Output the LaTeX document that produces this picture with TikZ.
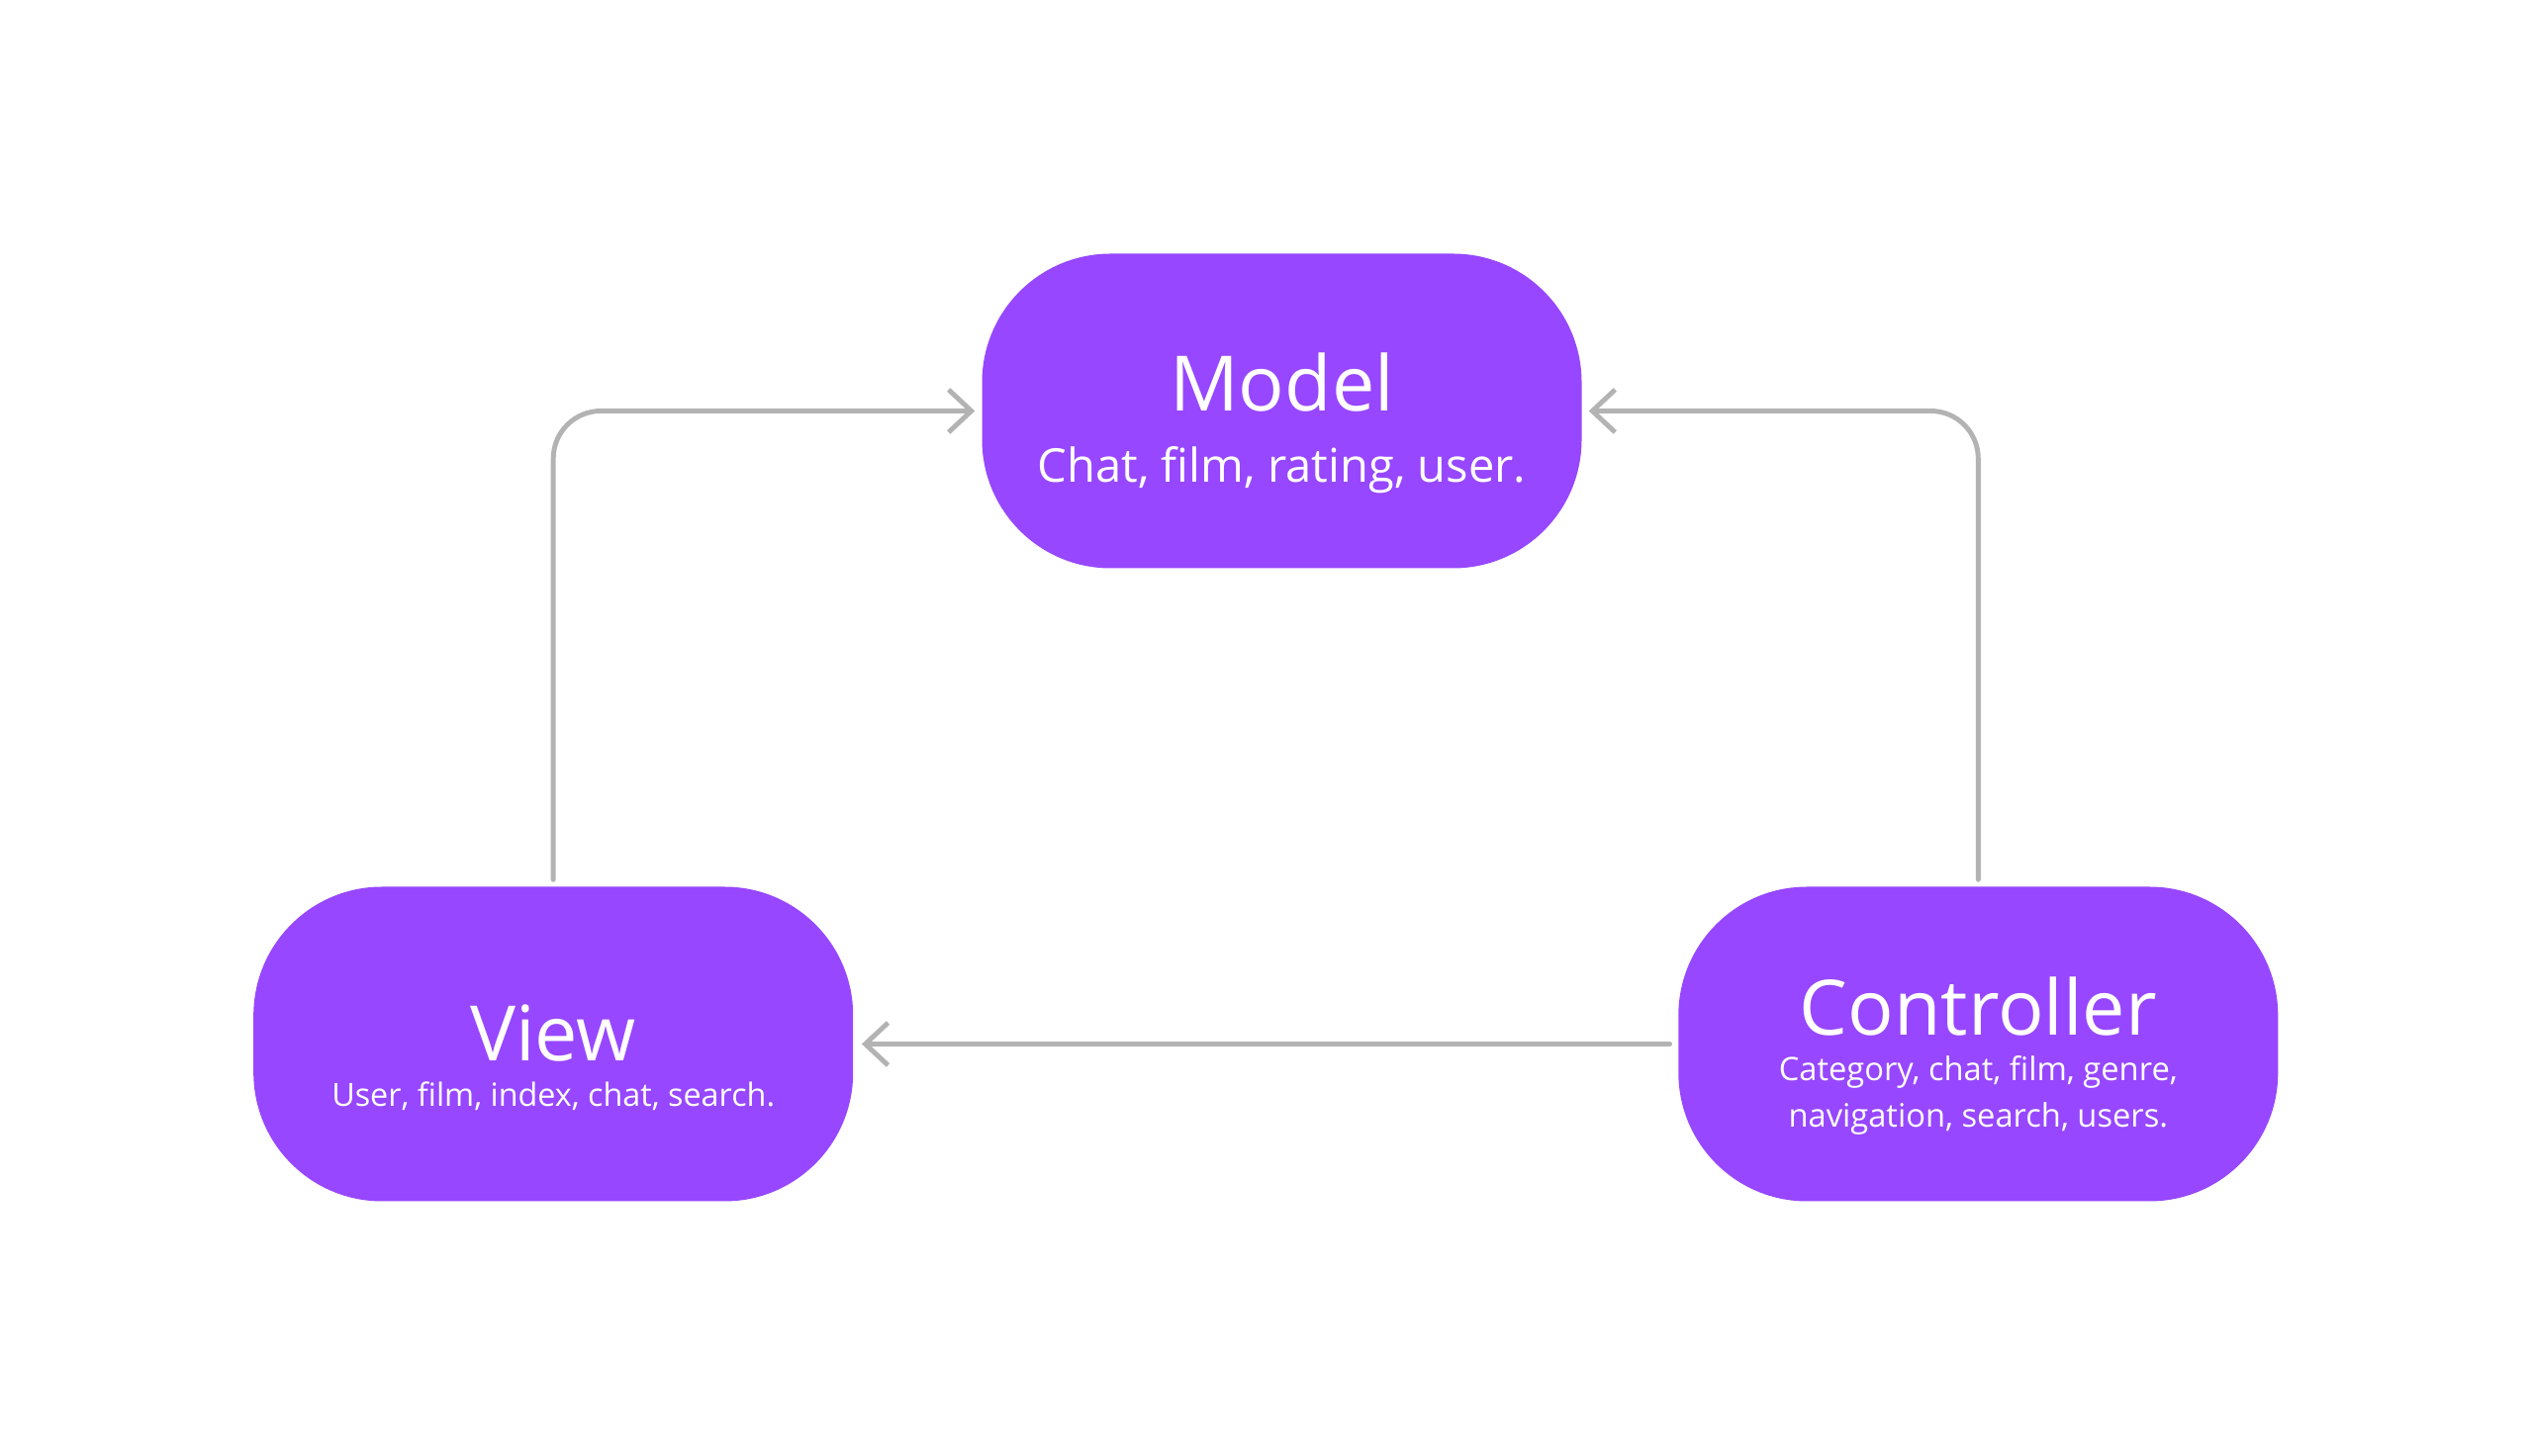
\documentclass[tikz,border=0pt]{standalone}
\usepackage{fontspec}
\setmainfont{Open Sans}
\usetikzlibrary{arrows.meta}
\definecolor{mvcpurple}{HTML}{9747FF}
\definecolor{linkgray}{HTML}{B3B3B3}
\tikzstyle{block} = [rectangle, rounded corners=1.3cm, minimum width=6.06cm, minimum height=3.18cm, fill=mvcpurple, text=white, align=center, inner sep=0pt, font={\baselineskip=0pt\lineskip=0pt\lineskiplimit=0pt}]
\tikzstyle{arrow} = [draw=linkgray, line width=1.4pt, line cap=round, rounded corners=0.48cm, -{Straight Barb[length=2.3mm,width=4.3mm]}, shorten <=0.65mm, shorten >=0.65mm]
\newcommand{\blocktitle}{\fontsize{22}{0}\selectfont}
\newcommand{\blocksub}[1]{\fontsize{#1}{0}\selectfont}

\begin{document}
\begin{tikzpicture}
\useasboundingbox (0,0) rectangle (25.6,14.72);
%Blocks
\node[block] (model) at (12.955,10.565) {\blocktitle\rule[-6pt]{0pt}{30.74pt}Model\\\blocksub{13.4}\rule[-4pt]{0pt}{18.46pt}Chat, film, rating, user.};
\node[block] (view) at (5.592,4.165) {\blocktitle\rule[-3pt]{0pt}{29.5pt}View\\\blocksub{9.2}\rule[-4pt]{0pt}{14.1pt}User, film, index, chat, search.};
\node[block] (controller) at (19.993,4.165) {\blocktitle\rule[-3pt]{0pt}{27.3pt}Controller\\\blocksub{9.3}\rule[-3.5pt]{0pt}{13.6pt}Category, chat, film, genre,\\\blocksub{9.3}\rule[-3pt]{0pt}{13.1pt}navigation, search, users.};

%Links
\draw[arrow] (view.north) |- (model.west);
\draw[arrow] (controller.north) |- (model.east);
\draw[arrow, shorten <=0.8mm, shorten >=0.8mm] (controller.west) -- (view.east);
\end{tikzpicture}
\end{document}
